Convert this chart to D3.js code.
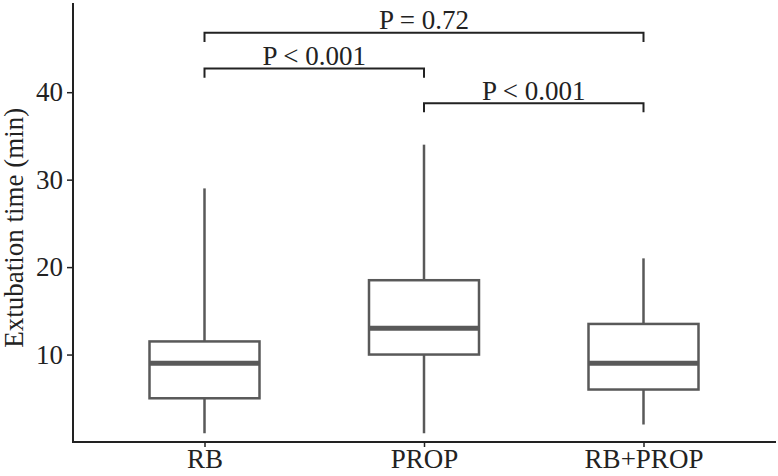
<!DOCTYPE html>
<html>
<head>
<meta charset="utf-8">
<script src="https://cdn.jsdelivr.net/npm/d3@7"></script>
<style>
  body { margin: 0; background: #fff; }
  svg { display: block; }
  text { font-family: "Liberation Serif", "Times New Roman", serif; fill: #222; }
</style>
</head>
<body>
<div id="chart"></div>
<script>
// groups and box stats
var groups = ["RB", "PROP", "RB+PROP"];
var whiskerLow = [1, 1, 2];
var q1 = [5, 10, 6];
var median = [9, 13, 9];
var q3 = [11.5, 18.5, 13.5];
var whiskerHigh = [29, 34, 21];

var yTicks = [10, 20, 30, 40];

// comparison brackets
var compFrom = ["RB", "RB", "PROP"];
var compTo = ["RB+PROP", "PROP", "RB+PROP"];
var compY = [46.8, 42.7, 38.75];
var compLabel = ["P = 0.72", "P < 0.001", "P < 0.001"];

var width = 778, height = 476;
var margin = {top: 3, right: 2, bottom: 34, left: 73};
var fontSize = "27px";

var svg = d3.select("#chart").append("svg")
    .attr("width", width)
    .attr("height", height);

var x = d3.scalePoint()
    .domain(groups)
    .range([204.5, 643.5])
    .padding(0);

var y = d3.scaleLinear()
    .domain([0, 50.2])
    .range([442, margin.top]);

var boxHalf = 55;
var boxColor = "#595959";

// axes
var yAxis = d3.axisLeft(y).tickValues(yTicks).tickSize(6).tickPadding(4);
var gy = svg.append("g")
    .attr("transform", "translate(" + margin.left + ",0)")
    .call(yAxis);
gy.select(".domain").remove();
gy.append("line")
    .attr("x1", 0).attr("x2", 0)
    .attr("y1", margin.top).attr("y2", y(0) + 1)
    .attr("stroke", "#222").attr("stroke-width", 2);
gy.selectAll(".tick line").attr("stroke", "#222").attr("stroke-width", 1.5);
gy.selectAll(".tick text").style("font-size", fontSize).attr("fill", "#222");

var xAxis = d3.axisBottom(x).tickSize(5).tickPadding(2);
var gx = svg.append("g")
    .attr("transform", "translate(0," + y(0) + ")")
    .call(xAxis);
gx.select(".domain").remove();
gx.append("line")
    .attr("x1", margin.left - 1).attr("x2", width - margin.right)
    .attr("y1", 0).attr("y2", 0)
    .attr("stroke", "#222").attr("stroke-width", 2);
gx.selectAll(".tick line").attr("stroke", "#222").attr("stroke-width", 1.5);
gx.selectAll(".tick text").style("font-size", fontSize).attr("fill", "#222");

// y title
svg.append("text")
    .attr("transform", "translate(23," + y(24.5) + ") rotate(-90)")
    .attr("text-anchor", "middle")
    .style("font-size", fontSize)
    .text("Extubation time (min)");

// boxes
var boxes = svg.append("g").selectAll("g")
    .data(groups)
    .enter()
    .append("g");

boxes.append("line")
    .attr("x1", function (d) { return x(d); })
    .attr("x2", function (d) { return x(d); })
    .attr("y1", function (d, i) { return y(q3[i]); })
    .attr("y2", function (d, i) { return y(whiskerHigh[i]); })
    .attr("stroke", boxColor).attr("stroke-width", 2.5);

boxes.append("line")
    .attr("x1", function (d) { return x(d); })
    .attr("x2", function (d) { return x(d); })
    .attr("y1", function (d, i) { return y(q1[i]); })
    .attr("y2", function (d, i) { return y(whiskerLow[i]); })
    .attr("stroke", boxColor).attr("stroke-width", 2.5);

boxes.append("rect")
    .attr("x", function (d) { return x(d) - boxHalf; })
    .attr("width", boxHalf * 2)
    .attr("y", function (d, i) { return y(q3[i]); })
    .attr("height", function (d, i) { return y(q1[i]) - y(q3[i]); })
    .attr("fill", "#fff")
    .attr("stroke", boxColor).attr("stroke-width", 2.5);

boxes.append("line")
    .attr("x1", function (d) { return x(d) - boxHalf; })
    .attr("x2", function (d) { return x(d) + boxHalf; })
    .attr("y1", function (d, i) { return y(median[i]); })
    .attr("y2", function (d, i) { return y(median[i]); })
    .attr("stroke", boxColor).attr("stroke-width", 5);

// significance brackets
var tickDrop = 1.05;
var brackets = svg.append("g").selectAll("g")
    .data(compLabel)
    .enter()
    .append("g");

brackets.append("path")
    .attr("d", function (d, i) {
        var x1 = x(compFrom[i]), x2 = x(compTo[i]);
        var yt = y(compY[i]), yb = y(compY[i] - tickDrop);
        return "M" + x1 + "," + yb + "V" + yt + "H" + x2 + "V" + yb;
    })
    .attr("fill", "none")
    .attr("stroke", "#222")
    .attr("stroke-width", 2);

brackets.append("text")
    .attr("x", function (d, i) { return (x(compFrom[i]) + x(compTo[i])) / 2; })
    .attr("y", function (d, i) { return y(compY[i]) - 3.5; })
    .attr("text-anchor", "middle")
    .style("font-size", fontSize)
    .text(function (d) { return d; });
</script>
</body>
</html>
